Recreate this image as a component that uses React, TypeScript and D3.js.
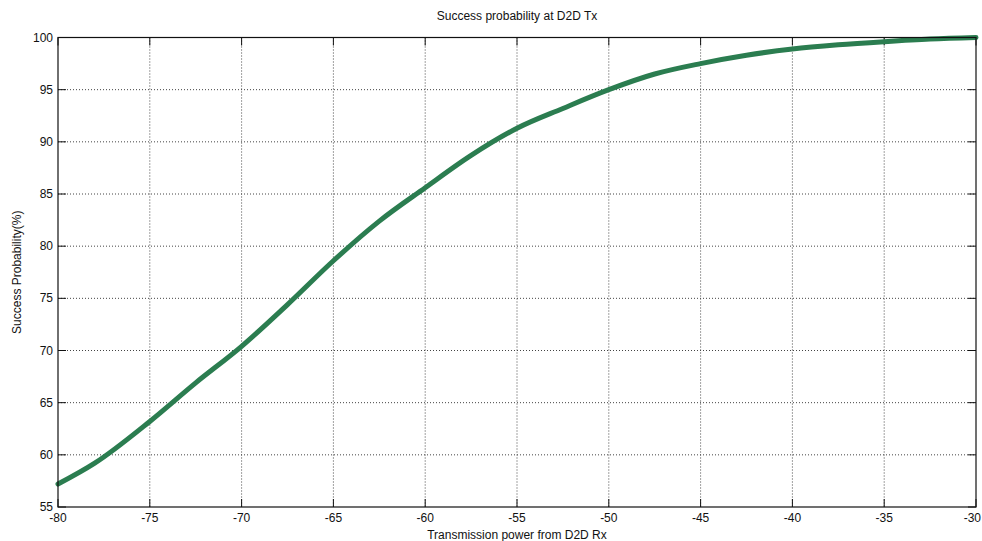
import React from "react";
import * as d3 from "d3";

const powerDbm: number[] = [-80, -78, -75, -72.5, -70, -67.5, -65, -62.5, -60, -57.5, -55, -52.5, -50, -47.5, -45, -42.5, -40, -37.5, -35, -32.5, -30];
const successPct: number[] = [57.2, 59.2, 63.2, 66.9, 70.4, 74.4, 78.6, 82.4, 85.6, 88.7, 91.3, 93.2, 95.0, 96.5, 97.5, 98.3, 98.9, 99.3, 99.6, 99.85, 100];
const xTicks: number[] = [-80, -75, -70, -65, -60, -55, -50, -45, -40, -35, -30];
const yTicks: number[] = [55, 60, 65, 70, 75, 80, 85, 90, 95, 100];

const W = 982;
const H = 541;
const M = { left: 58, right: 976, top: 37.5, bottom: 507 };
const FONT = "'Liberation Sans', Arial, sans-serif";

export default function App() {
  const x = d3.scaleLinear().domain([-80, -30]).range([M.left, M.right]);
  const y = d3.scaleLinear().domain([55, 100]).range([M.bottom, M.top]);
  const pts = powerDbm.map((p, i) => [p, successPct[i]] as [number, number]);
  const line = d3
    .line<[number, number]>()
    .x((d) => x(d[0]))
    .y((d) => y(d[1]))
    .curve(d3.curveMonotoneX);
  const tickLen = 8;
  return (
    <svg
      width={W}
      height={H}
      style={{ position: "absolute", left: 0, top: 0, background: "#fff" }}
      fontFamily={FONT}
    >
      <rect x={0} y={0} width={W} height={H} fill="#fff" />
      {/* grid */}
      {xTicks.slice(1, -1).map((t) => (
        <line key={"gx" + t} x1={x(t)} x2={x(t)} y1={M.top} y2={M.bottom} stroke="#444" strokeWidth={1} strokeDasharray="1,2" />
      ))}
      {yTicks.slice(1, -1).map((t) => (
        <line key={"gy" + t} x1={M.left} x2={M.right} y1={y(t)} y2={y(t)} stroke="#444" strokeWidth={1} strokeDasharray="1,2" />
      ))}
      {/* ticks */}
      {xTicks.map((t, i) => (
        <g key={"tx" + t}>
          <line x1={x(t)} x2={x(t)} y1={M.bottom} y2={M.bottom - tickLen} stroke="#111" />
          <line x1={x(t)} x2={x(t)} y1={M.top} y2={M.top + tickLen} stroke="#111" />
          <text
            x={i === xTicks.length - 1 ? W - 1 : x(t)}
            y={M.bottom + 15}
            textAnchor={i === xTicks.length - 1 ? "end" : "middle"}
            fontSize={12}
            fill="#111"
          >
            {t}
          </text>
        </g>
      ))}
      {yTicks.map((t) => (
        <g key={"ty" + t}>
          <line x1={M.left} x2={M.left + tickLen} y1={y(t)} y2={y(t)} stroke="#111" />
          <line x1={M.right} x2={M.right - tickLen} y1={y(t)} y2={y(t)} stroke="#111" />
          <text x={M.left - 5} y={y(t) + 4} textAnchor="end" fontSize={12} fill="#111">
            {t}
          </text>
        </g>
      ))}
      {/* data */}
      <path d={line(pts) || ""} fill="none" stroke="#2b7d50" strokeWidth={5} strokeLinejoin="round" strokeLinecap="round" />
      {/* frame */}
      <rect x={M.left} y={M.top} width={M.right - M.left} height={M.bottom - M.top} fill="none" stroke="#111" strokeWidth={1.2} />
      {/* labels */}
      <text x={(M.left + M.right) / 2} y={20} textAnchor="middle" fontSize={12} fill="#111">
        Success probability at D2D Tx
      </text>
      <text x={(M.left + M.right) / 2} y={539} textAnchor="middle" fontSize={12} fill="#111">
        Transmission power from D2D Rx
      </text>
      <text
        transform={`translate(21, ${(M.top + M.bottom) / 2}) rotate(-90)`}
        textAnchor="middle"
        fontSize={12}
        fill="#111"
      >
        Success Probability(%)
      </text>
    </svg>
  );
}
